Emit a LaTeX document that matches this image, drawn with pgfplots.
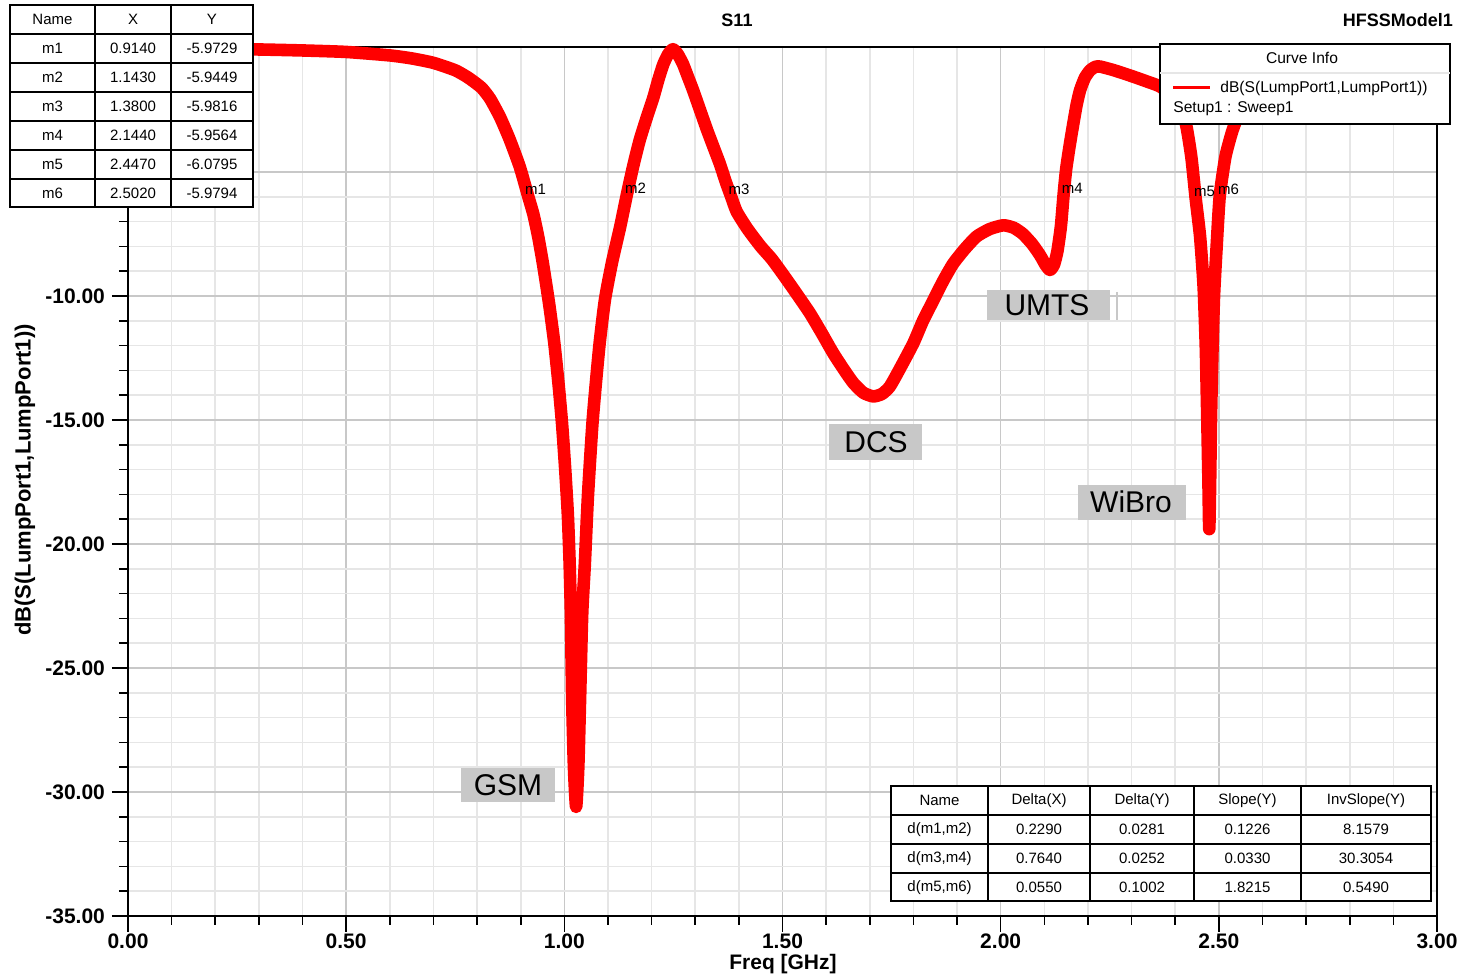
\documentclass[border=0pt]{standalone}
\usepackage{pgfplots}
\pgfplotsset{compat=1.18}
\usepackage{pgfplotstable}
\usepackage{fontspec}
\setmainfont{Liberation Sans}

\definecolor{gridmaj}{RGB}{200,200,200}
\definecolor{gridmin}{RGB}{230,230,230}
\definecolor{tagbg}{RGB}{200,200,200}

% S11 sweep
\pgfplotstableread{
f s11
0.000 -0.03
0.100 -0.03
0.200 -0.04
0.300 -0.06
0.400 -0.10
0.500 -0.16
0.600 -0.30
0.650 -0.42
0.700 -0.60
0.750 -0.90
0.780 -1.20
0.810 -1.60
0.830 -2.05
0.853 -2.80
0.875 -3.70
0.898 -4.80
0.917 -5.97
0.929 -6.70
0.940 -7.60
0.951 -8.70
0.965 -10.30
0.977 -11.90
0.987 -13.60
0.995 -15.20
1.002 -17.00
1.008 -18.80
1.012 -20.70
1.015 -22.80
1.018 -26.30
1.022 -29.00
1.027 -30.60
1.032 -29.00
1.036 -26.30
1.041 -22.80
1.047 -20.80
1.054 -18.10
1.065 -15.00
1.080 -12.06
1.093 -10.16
1.109 -8.67
1.128 -7.21
1.143 -5.94
1.158 -4.75
1.173 -3.70
1.189 -2.80
1.204 -2.00
1.216 -1.25
1.227 -0.65
1.238 -0.25
1.249 -0.05
1.260 -0.25
1.272 -0.65
1.283 -1.15
1.295 -1.70
1.311 -2.50
1.327 -3.30
1.342 -4.00
1.357 -4.70
1.370 -5.40
1.382 -5.98
1.395 -6.60
1.420 -7.30
1.450 -8.00
1.475 -8.50
1.500 -9.10
1.530 -9.85
1.563 -10.70
1.590 -11.50
1.616 -12.30
1.640 -12.95
1.662 -13.50
1.685 -13.90
1.708 -14.05
1.728 -13.95
1.746 -13.65
1.770 -12.90
1.800 -11.90
1.822 -11.00
1.845 -10.20
1.868 -9.40
1.891 -8.70
1.918 -8.10
1.945 -7.60
1.975 -7.30
2.006 -7.15
2.030 -7.25
2.051 -7.50
2.072 -7.90
2.090 -8.35
2.103 -8.75
2.113 -8.95
2.122 -8.75
2.130 -8.20
2.138 -7.20
2.144 -5.96
2.150 -4.90
2.158 -3.95
2.166 -3.10
2.174 -2.30
2.182 -1.70
2.193 -1.20
2.205 -0.90
2.217 -0.76
2.228 -0.75
2.260 -0.90
2.303 -1.15
2.335 -1.35
2.365 -1.55
2.390 -1.90
2.410 -2.40
2.425 -3.10
2.437 -4.40
2.447 -6.08
2.457 -7.60
2.465 -9.60
2.470 -12.00
2.473 -14.50
2.476 -17.30
2.478 -19.40
2.480 -17.60
2.482 -15.00
2.485 -12.50
2.489 -10.00
2.495 -8.00
2.502 -5.98
2.515 -4.40
2.530 -3.40
2.545 -2.70
2.570 -2.00
2.600 -1.60
2.700 -1.15
2.800 -0.95
2.900 -0.85
3.000 -0.80
}\sparam

\begin{document}
\begin{tikzpicture}
\path[use as bounding box] (0,0) rectangle (733.5pt,489pt);
\begin{axis}[
  at={(64pt,31pt)}, anchor=south west,
  scale only axis, width=654.5pt, height=434.5pt,
  xmin=0, xmax=3, ymin=-35, ymax=0.04,
  xtick={0,0.5,...,3}, ytick={-35,-30,...,-5},
  yticklabels={-35.00,-30.00,-25.00,-20.00,-15.00,-10.00,},
  minor x tick num=4, minor y tick num=4,
  grid=both,
  major grid style={gridmaj, line width=0.8pt},
  minor grid style={gridmin, line width=0.8pt},
  axis line style={line width=1pt},
  tick pos=left, tick align=outside,
  major tick length=8pt, minor tick length=4.5pt,
  tick style={black, line width=0.8pt},
  ticklabel style={font=\bfseries\fontsize{10.5}{12}\selectfont},
  xticklabel style={yshift=2.5pt},
  /pgf/number format/.cd, fixed, fixed zerofill, precision=2, assume math mode=true,
  /pgfplots/.cd,
  clip=false,
]
\addplot[red, line width=6.3pt, line join=round, line cap=round, smooth, tension=0.35] table[x=f, y=s11] {\sparam};

\tikzset{mlab/.style={font=\fontsize{7.5}{9}\selectfont, anchor=west, inner sep=0pt, xshift=-1pt, yshift=3.5pt}}
\node[mlab] at (axis cs:0.914,-5.9729) {m1};
\node[mlab] at (axis cs:1.143,-5.9449) {m2};
\node[mlab] at (axis cs:1.380,-5.9816) {m3};
\node[mlab] at (axis cs:2.144,-5.9564) {m4};
\node[mlab] at (axis cs:2.447,-6.0795) {m5};
\node[mlab] at (axis cs:2.502,-5.9794) {m6};
\end{axis}

% overlays in pixel units of the reference (origin top left)
\begin{scope}[x=0.5pt, y=-0.5pt, yshift=489pt]
  \tikzset{lab/.style={font=\bfseries\fontsize{9}{11}\selectfont}}
  \node[lab] at (737,20) {S11};
  \node[lab, anchor=east] at (1460,20) {HFSSModel1};
  \node[font=\bfseries\fontsize{11}{13}\selectfont, rotate=90] at (25,480) {dB(S(LumpPort1,LumpPort1))};
  \node[font=\bfseries\fontsize{10.5}{12}\selectfont] at (783,964) {Freq [GHz]};

  % band tags
  \tikzset{tag/.style={font=\fontsize{15}{18}\selectfont}}
  \fill[tagbg] (461,768) rectangle (555,802);
  \node[tag] at (508,785) {GSM};
  \fill[tagbg] (829,424) rectangle (922,460);
  \node[tag] at (876,442) {DCS};
  \fill[tagbg] (987,290) rectangle (1110,320);
  \node[tag] at (1047,305) {UMTS};
  \draw[gridmaj, line width=0.8pt] (1117,292) -- (1117,320);
  \fill[tagbg] (1078,485) rectangle (1186,520);
  \node[tag] at (1131,502) {WiBro};

  % marker table
  \tikzset{tt/.style={font=\fontsize{7.5}{9}\selectfont}}
  \fill[white] (10,5) rectangle (253,207);
  \draw[line width=0.8pt] (10,5) rectangle (253,207);
  \foreach \xx in {95,171} \draw[line width=0.8pt] (\xx,5) -- (\xx,207);
  \foreach \yy in {34,63,92,121,150,179} \draw[line width=0.8pt] (10,\yy) -- (253,\yy);
  \node[tt] at (52.5,19.5) {Name};
  \node[tt] at (133,19.5) {X};
  \node[tt] at (212,19.5) {Y};
  \foreach \n/\a/\b [count=\i] in {m1/0.9140/-5.9729, m2/1.1430/-5.9449, m3/1.3800/-5.9816,
      m4/2.1440/-5.9564, m5/2.4470/-6.0795, m6/2.5020/-5.9794} {
    \pgfmathsetmacro\yy{19.5+29*\i}
    \node[tt] at (52.5,\yy) {\n};
    \node[tt] at (133,\yy) {\a};
    \node[tt] at (212,\yy) {\b};
  }

  % delta table
  \fill[white] (891,786) rectangle (1431,901);
  \draw[line width=0.8pt] (891,786) rectangle (1431,901);
  \foreach \xx in {988,1090,1194,1301} \draw[line width=0.8pt] (\xx,786) -- (\xx,901);
  \foreach \yy in {815,844,873} \draw[line width=0.8pt] (891,\yy) -- (1431,\yy);
  \node[tt] at (939.5,800.5) {Name};
  \node[tt] at (1039,800.5) {Delta(X)};
  \node[tt] at (1142,800.5) {Delta(Y)};
  \node[tt] at (1247.5,800.5) {Slope(Y)};
  \node[tt] at (1366,800.5) {InvSlope(Y)};
  \foreach \n/\a/\b/\c/\d [count=\i] in {{d(m1,m2)}/0.2290/0.0281/0.1226/8.1579,
      {d(m3,m4)}/0.7640/0.0252/0.0330/30.3054, {d(m5,m6)}/0.0550/0.1002/1.8215/0.5490} {
    \pgfmathsetmacro\yy{800.5+29*\i}
    \node[tt] at (939.5,\yy) {\n};
    \node[tt] at (1039,\yy) {\a};
    \node[tt] at (1142,\yy) {\b};
    \node[tt] at (1247.5,\yy) {\c};
    \node[tt] at (1366,\yy) {\d};
  }

  % curve info
  \fill[white] (1160,44) rectangle (1450,124);
  \draw[line width=0.8pt] (1160,44) rectangle (1450,124);
  \draw[gridmin, line width=0.8pt] (1160,73) -- (1450,73);
  \node[font=\fontsize{7.8}{9}\selectfont] at (1302,58) {Curve Info};
  \draw[red, line width=1.5pt] (1173,88) -- (1210,88);
  \node[font=\fontsize{7.8}{9}\selectfont, anchor=west, inner sep=0pt] at (1220,88) {dB(S(LumpPort1,LumpPort1))};
  \node[font=\fontsize{7.8}{9}\selectfont, anchor=west, inner sep=0pt] at (1173,109) {Setup1 : Sweep1};
\end{scope}
\end{tikzpicture}
\end{document}
